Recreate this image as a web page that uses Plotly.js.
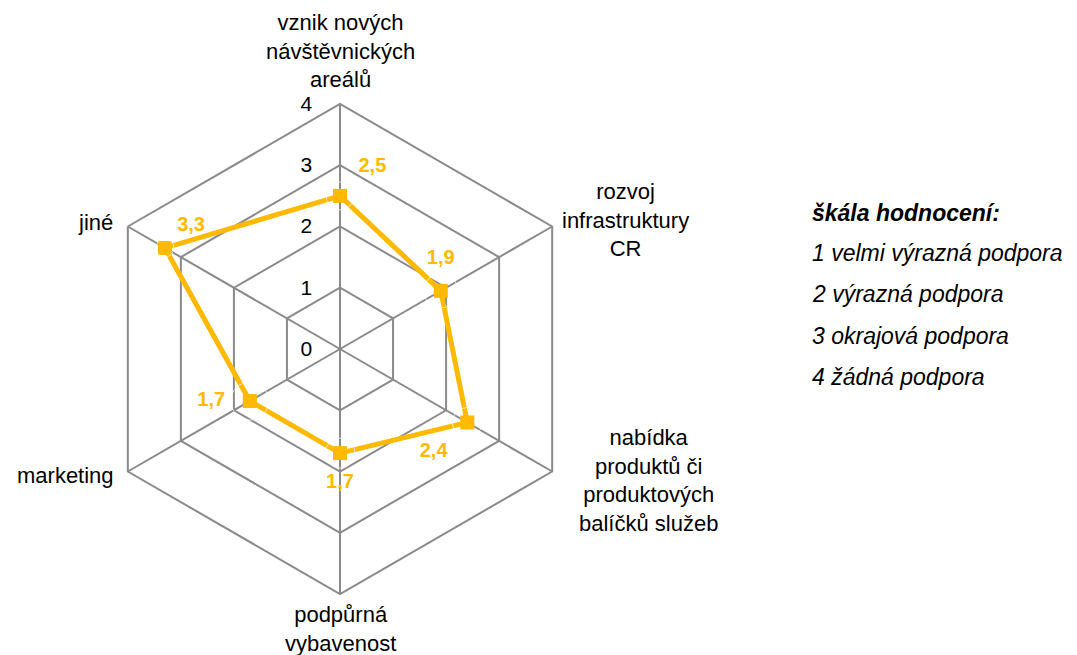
<!DOCTYPE html>
<html>
<head>
<meta charset="utf-8">
<script src="https://cdn.plot.ly/plotly-3.0.1.min.js"></script>
<style>html,body{margin:0;padding:0;background:#fff;}#chart{width:1077px;height:655px;}</style>
</head>
<body>
<div id="chart"></div>
<script>
const categories = [
  "vznik nových<br>návštěvnických<br>areálů",
  "rozvoj<br>infrastruktury<br>CR",
  "nabídka<br>produktů či<br>produktových<br>balíčků služeb",
  "podpůrná<br>vybavenost",
  "marketing",
  "jiné"
];
const values = [2.5, 1.9, 2.4, 1.7, 1.7, 3.3];
const labelPositions = ["top right", "top center", "bottom left", "bottom center", "middle left", "top right"];
const labelGap = [28, 34, 30, 30, 38, 18];
const radialTicks = [0, 1, 2, 3, 4];
const legendTitle = "škála hodnocení:";
const legendItems = ["1 velmi výrazná podpora", "2 výrazná podpora", "3 okrajová podpora", "4 žádná podpora"];

// category label placement (paper px centers)
const catLabelPos = [[340, 51], [625, 220], [648, 480], [340, 629], [65, 475], [95, 222]];

const gold = "#FFB900";
const grid = "#8A8A8A";
const fontFam = "Liberation Sans, Arial, sans-serif";
const W = 1077, H = 655;

const closedTheta = categories.concat([categories[0]]);
const closedR = values.concat([values[0]]);

const traces = [
  {
    type: "scatterpolar",
    r: closedR,
    theta: closedTheta,
    mode: "lines",
    line: {color: gold, width: 5},
    hoverinfo: "skip",
    showlegend: false
  },
  {
    type: "scatterpolar",
    r: values,
    theta: categories,
    mode: "markers",
    marker: {symbol: "square", size: 14, color: gold},
    showlegend: false
  },
  {
    type: "scatterpolar",
    r: values,
    theta: categories,
    mode: "markers+text",
    marker: {size: labelGap, color: "rgba(0,0,0,0)"},
    texttemplate: "%{r:.1f}",
    textposition: labelPositions,
    textfont: {family: fontFam, size: 20, color: gold, weight: "bold"},
    cliponaxis: false,
    showlegend: false
  }
];

const annotations = [{
  text: "<b><i>" + legendTitle + "</i></b>",
  x: 810 / W, y: 1 - 213 / H, xref: "paper", yref: "paper",
  xanchor: "left", yanchor: "middle", showarrow: false,
  font: {family: fontFam, size: 23, color: "#000"}
}];
legendItems.forEach((t, i) => {
  annotations.push({
    text: "<i>" + t + "</i>",
    x: 810 / W, y: 1 - (253 + i * 41.3) / H, xref: "paper", yref: "paper",
    xanchor: "left", yanchor: "middle", showarrow: false,
    font: {family: fontFam, size: 23, color: "#000"}
  });
});
categories.forEach((c, i) => {
  annotations.push({
    text: c,
    x: catLabelPos[i][0] / W, y: 1 - catLabelPos[i][1] / H, xref: "paper", yref: "paper",
    xanchor: "center", yanchor: "middle", align: "center", showarrow: false,
    font: {family: fontFam, size: 22, color: "#000"}
  });
});

const layout = {
  width: W, height: H,
  margin: {l: 0, r: 0, t: 0, b: 0},
  paper_bgcolor: "#fff",
  separators: ", ",
  font: {family: fontFam, size: 21, color: "#000"},
  showlegend: false,
  polar: {
    domain: {x: [95 / W, 585 / W], y: [1 - 594 / H, 1 - 104 / H]},
    gridshape: "linear",
    bgcolor: "#fff",
    angularaxis: {
      rotation: 90,
      direction: "clockwise",
      showline: true,
      linecolor: grid,
      linewidth: 2,
      gridcolor: grid,
      gridwidth: 2,
      ticks: "",
      showticklabels: false
    },
    radialaxis: {
      range: [0, 4],
      tickvals: radialTicks,
      angle: 90,
      side: "counterclockwise",
      showline: false,
      gridcolor: grid,
      gridwidth: 2,
      ticks: "outside",
      ticklen: 20,
      tickcolor: "rgba(0,0,0,0)",
      tickangle: 90,
      tickfont: {family: fontFam, size: 21, color: "#000"}
    }
  },
  annotations: annotations
};

Plotly.newPlot("chart", traces, layout, {displayModeBar: false, staticPlot: true});
</script>
</body>
</html>
